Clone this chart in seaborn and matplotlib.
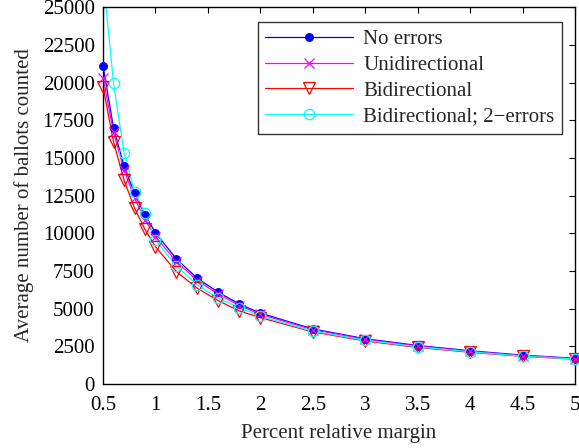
import matplotlib

matplotlib.use("Agg")
import matplotlib.pyplot as plt
import pandas as pd
import seaborn as sns
from matplotlib.lines import Line2D
from matplotlib.ticker import FormatStrFormatter, MultipleLocator

# percent relative margin
margin = [0.5, 0.6, 0.7, 0.8, 0.9, 1.0, 1.2, 1.4, 1.6, 1.8, 2.0, 2.5, 3.0, 3.5, 4.0, 4.5, 5.0]

no_errors = [21100, 16970, 14470, 12640, 11200, 10030, 8290, 7000, 6080, 5300, 4700, 3650, 3000, 2550, 2200, 1910, 1700]
unidirectional = [20300, 16700, 14190, 12330, 10870, 9770, 8110, 6850, 5950, 5200, 4620, 3600, 2960, 2510, 2170, 1880, 1680]
bidirectional = [19700, 16060, 13520, 11670, 10250, 9100, 7450, 6340, 5520, 4840, 4400, 3450, 2850, 2420, 2100, 1830, 1640]
bidirectional_2err = [27070, 19940, 15340, 12750, 11320, 9550, 7820, 6560, 5680, 5060, 4500, 3500, 2900, 2460, 2130, 1850, 1650]

series_names = ["No errors", "Unidirectional", "Bidirectional", "Bidirectional; 2\u2212errors"]
y_max = 25000

sns.set_style("white")
plt.rcParams["font.family"] = ["Liberation Serif", "DejaVu Serif"]
plt.rcParams["font.size"] = 15

df = pd.DataFrame(
    {
        "margin": margin,
        series_names[0]: no_errors,
        series_names[1]: unidirectional,
        series_names[2]: bidirectional,
        series_names[3]: bidirectional_2err,
    }
)
long_df = df.melt(id_vars="margin", var_name="series", value_name="ballots")

colors = {
    series_names[0]: "#0000ff",
    series_names[1]: "#ff00ff",
    series_names[2]: "#ff0000",
    series_names[3]: "#00ffff",
}
marker_styles = {
    series_names[0]: dict(marker="o", markersize=5.5, markerfacecolor="#0000ff"),
    series_names[1]: dict(marker="x", markersize=7, markerfacecolor="none"),
    series_names[2]: dict(marker="v", markersize=8.5, markerfacecolor="none"),
    series_names[3]: dict(marker="o", markersize=7.5, markerfacecolor="none"),
}

fig = plt.figure(figsize=(5.79, 4.48), dpi=100)
ax = fig.add_axes([0.178, 0.143, 0.815, 0.841])

handles = []
for name in series_names:
    subset = long_df[long_df["series"] == name]
    color = colors[name]
    # lines are clipped at the axes box, markers on the edge are drawn whole
    sns.lineplot(
        data=subset,
        x="margin",
        y="ballots",
        ax=ax,
        color=color,
        linewidth=0.9,
        estimator=None,
        sort=False,
        legend=False,
    )
    inside = subset[subset["ballots"] <= y_max]
    ax.plot(
        inside["margin"],
        inside["ballots"],
        linestyle="none",
        markeredgecolor=color,
        markeredgewidth=0.9,
        clip_on=False,
        zorder=3,
        **marker_styles[name],
    )
    handles.append(
        Line2D([], [], color=color, linewidth=0.9, markeredgecolor=color, markeredgewidth=0.9, **marker_styles[name])
    )

ax.set_xlim(0.5, 5)
ax.set_ylim(0, y_max)
ax.xaxis.set_major_locator(MultipleLocator(0.5))
ax.yaxis.set_major_locator(MultipleLocator(2500))
ax.xaxis.set_major_formatter(FormatStrFormatter("%g"))
ax.yaxis.set_major_formatter(FormatStrFormatter("%d"))
ax.tick_params(direction="in", top=True, right=True, length=4, width=0.8, labelsize=15, colors="black")
ax.tick_params(axis="y", pad=6)
ax.tick_params(axis="x", pad=9)
for spine in ax.spines.values():
    spine.set_color("black")
    spine.set_linewidth(1.0)

ax.set_xlabel("Percent relative margin", fontsize=15, labelpad=6)
ax.set_ylabel("Average number of ballots counted", fontsize=15, labelpad=6)

legend = ax.legend(
    handles,
    series_names,
    loc="upper right",
    bbox_to_anchor=(0.972, 0.960),
    borderaxespad=0,
    fontsize=15,
    frameon=True,
    fancybox=False,
    edgecolor="black",
    handlelength=4.2,
    handletextpad=0.5,
    labelspacing=0.3,
    borderpad=0.35,
)
legend.get_frame().set_linewidth(1.0)

fig.savefig("out.png", dpi=100)
